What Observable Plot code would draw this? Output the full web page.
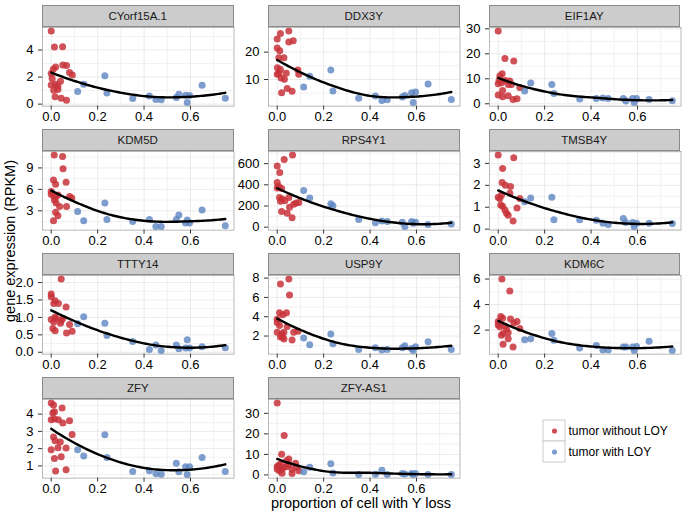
<!DOCTYPE html>
<html><head><meta charset="utf-8">
<script src="https://cdn.jsdelivr.net/npm/d3@7"></script>
<script src="https://cdn.jsdelivr.net/npm/@observablehq/plot@0.6"></script>
<style>
body{margin:0;background:#fff;font-family:"Liberation Sans",Arial,sans-serif;}
#chart{position:relative;width:685px;height:513px;overflow:hidden;background:#fff;}
.strip{position:absolute;background:#CCCCCC;border:0.5px solid #8a8a8a;box-sizing:border-box;text-align:center;font-size:11.5px;color:#1a1a1a;}
.atitle{position:absolute;font-size:14.5px;color:#000;white-space:nowrap;}
</style></head><body><div id="chart"></div>
<script>
// ---------------- data ----------------
const genes = ["CYorf15A.1","DDX3Y","EIF1AY","KDM5D","RPS4Y1","TMSB4Y","TTTY14","USP9Y","KDM6C","ZFY","ZFY-AS1"];
const groups = ["tumor without LOY","tumor with LOY"];
const xTicks = [0, 0.2, 0.4, 0.6];
const xMinorTicks = [0.1, 0.3, 0.5, 0.7];
const xLabel = "proportion of cell with Y loss";
const yLabel = "gene expression (RPKM)";

// proportion of cells with Y loss for the "tumor with LOY" samples
const blueX = [0.114,0.14,0.231,0.24,0.351,0.423,0.451,0.474,0.539,0.55,0.579,0.586,0.596,0.65,0.75];

const redX_CYorf15A1 = [0,0.014,0.049,0.019,0.009,0.05,0.066,0.079,0.091,0,0,0.019,0.04,0.029,0.011,0.029,0.017,0.043,0.066,0.004];
const redY_CYorf15A1 = [5.4,4.22,4.25,2.75,2.58,2.9,2.85,2.33,2.16,2.26,1.42,1.47,1.69,1.35,1.03,1.08,0.54,0.44,0.29,1.9];
const blueY_CYorf15A1 = [0.93,1.47,2.09,0.83,0.42,0.61,0.34,0.32,0.49,0.74,0.66,0.12,0.64,1.4,0.44];
const yTicks_CYorf15A1 = [0,2,4];

const redX_DDX3Y = [0,0.014,0.05,0.069,0.05,0,0.011,0.007,0.029,0.001,0.014,0.007,0.039,0,0.017,0.031,0.089,0.093,0.019,0.043,0.064];
const redY_DDX3Y = [24.8,26.8,27.7,24.2,23.7,21.5,20.5,18.0,18.0,14.3,13.7,12.2,12.3,11.9,10.6,10.1,13.5,11.9,5.2,6.7,5.7];
const blueY_DDX3Y = [7.3,11.2,13.5,5.8,3.2,4.0,2.3,2.6,3.6,4.2,5.2,1.6,5.4,8.4,2.7];
const yTicks_DDX3Y = [10,20];

const redX_EIF1AY = [0,0.029,0.067,0.017,0.007,0.004,0,0.014,0.05,0.057,0.093,0.019,0,0.019,0.043,0.064,0.081,0.031,0.043];
const redY_EIF1AY = [29.1,18.1,17.1,12.0,11.1,9.3,8.0,8.4,9.1,7.7,6.5,5.3,3.5,2.8,3.2,1.7,2.0,9.3,7.7];
const blueY_EIF1AY = [5.1,8.3,7.7,4.1,1.9,2.1,2.3,2.1,2.1,1.1,2.1,0.5,2.1,1.7,1.2];
const yTicks_EIF1AY = [0,10,20,30];

const redX_KDM5D = [0.013,0.049,0.051,0.01,0.019,0.064,0,0,0.01,0.019,0.079,0.089,0.014,0.021,0.036,0.066,0.019,0.029,0.01,0.029];
const redY_KDM5D = [10.8,10.6,8.9,7.3,6.7,7.0,5.7,5.3,5.1,4.9,5.0,4.8,4.5,4.1,3.6,3.6,2.8,2.3,1.6,5.2];
const blueY_KDM5D = [2.9,1.6,4.1,1.8,1.5,1.8,0.8,0.8,1.8,2.4,1.3,1.7,1.3,3.1,0.9];
const yTicks_KDM5D = [3,6,9];

const redX_RPS4Y1 = [0,0.011,0.03,0.066,0,0.007,0.019,0,0.01,0.021,0.014,0.033,0.05,0.053,0.071,0.081,0.093,0.019,0.043,0.064];
const redY_RPS4Y1 = [578,516,640,681,422,384,366,370,281,266,244,250,281,188,216,228,234,147,131,88];
const blueY_RPS4Y1 = [347,275,222,203,72,41,59,53,47,6,53,38,47,25,31];
const yTicks_RPS4Y1 = [0,200,400,600];

const redX_TMSB4Y = [0,0.067,0.019,0.017,0.031,0.053,0.05,0,0.007,0.014,0.093,0.011,0.019,0.029,0.036,0.043,0.081,0.064];
const redY_TMSB4Y = [3.38,3.26,2.77,2.13,2.0,1.95,1.64,1.45,1.4,1.55,1.4,1.1,1.04,0.87,0.72,0.64,0.96,0.37];
const blueY_TMSB4Y = [1.25,1.42,1.46,0.43,0.43,0.41,0.27,0.21,0.49,0.3,0.3,0.12,0.27,0.27,0.26];
const yTicks_TMSB4Y = [0,1,2,3];

const redX_TTTY14 = [0.043,0,0,0.017,0.011,0.031,0.064,0.017,0,0.011,0.021,0.043,0.05,0.04,0.079,0.007,0.017,0.09,0.066];
const redY_TTTY14 = [2.1,1.67,1.59,1.48,1.40,1.40,1.30,1.01,0.94,0.87,0.97,0.91,0.97,0.83,0.80,0.68,0.62,0.6,0.55];
const blueY_TTTY14 = [0.82,1.02,0.83,0.48,0.31,0.08,0.21,0.05,0.21,0.1,0.12,0.36,0.12,0.16,0.13];
const yTicks_TTTY14 = [0,0.5,1,1.5,2];

const redX_USP9Y = [0.05,0.014,0.053,0.01,0.04,0.024,0,0,0.01,0.043,0,0.029,0.071,0.09,0.019,0.014,0.024,0.029,0.064];
const redY_USP9Y = [7.9,7.4,6.25,4.4,4.4,4.2,3.75,3.4,3.1,3.0,2.4,2.4,2.4,2.5,2.2,1.9,1.9,1.7,1.6];
const blueY_USP9Y = [1.8,1.1,2.2,1.2,0.6,0.8,0.55,0.6,0.8,1.0,0.7,0.5,0.9,1.4,0.6];
const yTicks_USP9Y = [2,4,6,8];

const redX_KDM6C = [0.016,0.05,0.011,0.019,0.053,0.081,0.067,0,0,0.007,0.029,0.036,0.093,0.021,0.014,0.043,0.043,0.021,0.064];
const redY_KDM6C = [6.0,5.07,3.07,2.93,2.88,2.67,2.53,2.67,2.4,2.27,2.32,2.08,2.13,1.73,1.6,1.79,1.33,0.9,0.67];
const blueY_KDM6C = [1.25,1.33,1.73,1.2,0.6,0.8,0.45,0.45,0.67,0.67,0.67,0.4,0.72,1.12,0.4];
const yTicks_KDM6C = [2,4,6];

const redX_ZFY = [0,0.01,0.047,0.014,0.007,0,0.014,0.031,0.05,0.079,0.09,0.01,0.017,0.039,0,0.029,0.064,0.014,0.043,0.019,0.064];
const redY_ZFY = [4.64,4.53,4.35,4.14,4.06,3.67,3.71,3.67,3.48,3.62,2.82,2.67,2.46,2.38,1.93,2.05,2.03,1.43,1.53,0.7,0.77];
const blueY_ZFY = [1.93,1.57,2.8,1.49,0.68,0.72,0.54,0.52,1.16,0.66,0.95,0.5,0.95,1.49,0.68];
const yTicks_ZFY = [1,2,3,4];

const redX_ZFYAS1 = [0,0.03,0.019,0.05,0.04,0,0.007,0.014,0.019,0,0.01,0.029,0.043,0.064,0.079,0.083,0.093,0.021,0.064,0.014,0.05];
const redY_ZFYAS1 = [35,19.2,10.1,7.7,6.9,4.1,4.7,3.6,2.8,2.8,2.0,3.6,4.1,2.8,5.7,3.6,2.0,0.8,0.7,5.2,5.1];
const blueY_ZFYAS1 = [1.6,3.8,5.4,1.0,0.2,0.3,2.3,0.2,0.7,0.5,0.7,0.2,0.7,0.2,0.2];
const yTicks_ZFYAS1 = [0,10,20,30];

// table built from the arrays above
const series = {
  "CYorf15A.1": [redX_CYorf15A1, redY_CYorf15A1, blueY_CYorf15A1, yTicks_CYorf15A1, "d"],
  "DDX3Y": [redX_DDX3Y, redY_DDX3Y, blueY_DDX3Y, yTicks_DDX3Y, "d"],
  "EIF1AY": [redX_EIF1AY, redY_EIF1AY, blueY_EIF1AY, yTicks_EIF1AY, "d"],
  "KDM5D": [redX_KDM5D, redY_KDM5D, blueY_KDM5D, yTicks_KDM5D, "d"],
  "RPS4Y1": [redX_RPS4Y1, redY_RPS4Y1, blueY_RPS4Y1, yTicks_RPS4Y1, "d"],
  "TMSB4Y": [redX_TMSB4Y, redY_TMSB4Y, blueY_TMSB4Y, yTicks_TMSB4Y, "d"],
  "TTTY14": [redX_TTTY14, redY_TTTY14, blueY_TTTY14, yTicks_TTTY14, ".1f"],
  "USP9Y": [redX_USP9Y, redY_USP9Y, blueY_USP9Y, yTicks_USP9Y, "d"],
  "KDM6C": [redX_KDM6C, redY_KDM6C, blueY_KDM6C, yTicks_KDM6C, "d"],
  "ZFY": [redX_ZFY, redY_ZFY, blueY_ZFY, yTicks_ZFY, "d"],
  "ZFY-AS1": [redX_ZFYAS1, redY_ZFYAS1, blueY_ZFYAS1, yTicks_ZFYAS1, "d"]
};

// ---------------- styling / layout ----------------
const colors = {"tumor without LOY": "#C8323A", "tumor with LOY": "#5B84C0"};
const opac = {"tumor without LOY": 0.85, "tumor with LOY": 0.8};
const FONT = "'Liberation Sans', Arial, sans-serif";
const colLeft = [42, 268, 488.5];
const rowTop = [4.5, 128.5, 252.5, 376.5];
const PW = 191.5, PH = 78.6, STRIP = 22.2;
const SPAN = 1;

// loess (degree 2, tricube weights, kd-tree vertex interpolation)
function solve3(A, b) {
  const M = A.map((r, i) => [...r, b[i]]);
  for (let c = 0; c < 3; c++) {
    let p = c;
    for (let r = c + 1; r < 3; r++) if (Math.abs(M[r][c]) > Math.abs(M[p][c])) p = r;
    [M[c], M[p]] = [M[p], M[c]];
    for (let r = c + 1; r < 3; r++) {
      const f = M[r][c] / M[c][c];
      for (let k = c; k < 4; k++) M[r][k] -= f * M[c][k];
    }
  }
  const x = [0, 0, 0];
  for (let r = 2; r >= 0; r--) {
    let s = M[r][3];
    for (let k = r + 1; k < 3; k++) s -= M[r][k] * x[k];
    x[r] = s / M[r][r];
  }
  return x;
}
function localFit(xs, ys, span, x0) {
  const n = xs.length;
  const d = xs.map(x => Math.abs(x - x0));
  const q = Math.min(n, Math.floor(n * span));
  let h = (d.slice().sort((a, b) => a - b)[q - 1] || 1e-9);
  if (span > 1) h *= span;
  h *= 1.0001;
  const A = [[0,0,0],[0,0,0],[0,0,0]], b = [0,0,0];
  for (let i = 0; i < n; i++) {
    const u = d[i] / h;
    if (u >= 1) continue;
    const w = Math.pow(1 - u * u * u, 3);
    const t = xs[i] - x0, v = [1, t, t * t];
    for (let j = 0; j < 3; j++) {
      b[j] += w * v[j] * ys[i];
      for (let k = 0; k < 3; k++) A[j][k] += w * v[j] * v[k];
    }
  }
  const c = solve3(A, b);
  return {v: c[0], s: c[1]};
}
function loess(xs, ys, span, xout) {
  const n = xs.length;
  const fc = Math.floor(n * span * 0.2);
  const sorted = xs.slice().sort((a, b) => a - b);
  const lo = sorted[0], hi = sorted[n - 1];
  const mu = 0.005 * (hi - lo);
  const verts = [lo - mu, hi + mu];
  (function split(l, u, a, b) {
    if (u - l + 1 <= fc) return;
    const m = Math.floor((l + u) / 2);
    const v = (sorted[m] + sorted[m + 1]) / 2;
    if (!(v > a && v < b)) return;
    verts.push(v);
    split(l, m, a, v);
    split(m + 1, u, v, b);
  })(0, n - 1, lo - mu, hi + mu);
  verts.sort((a, b) => a - b);
  const vf = verts.map(v => localFit(xs, ys, span, v));
  return xout.map(x0 => {
    let k = 0;
    while (k < verts.length - 2 && x0 > verts[k + 1]) k++;
    const a = verts[k], b = verts[k + 1], h = b - a;
    const t = (x0 - a) / h;
    const h00 = 2*t*t*t - 3*t*t + 1, h10 = t*t*t - 2*t*t + t, h01 = -2*t*t*t + 3*t*t, h11 = t*t*t - t*t;
    const y = h00 * vf[k].v + h10 * h * vf[k].s + h01 * vf[k + 1].v + h11 * h * vf[k + 1].s;
    return {x: x0, y};
  });
}

const chart = document.getElementById("chart");

genes.forEach((g, i) => {
  const [rx, ry, by, yt, fmt] = series[g];
  const pts = rx.map((x, j) => ({x, y: ry[j], grp: groups[0]}))
    .concat(blueX.map((x, j) => ({x, y: by[j], grp: groups[1]})));
  const xs = pts.map(d => d.x), ys = pts.map(d => d.y);
  const [x0, x1] = d3.extent(xs);
  const grid = d3.range(80).map(k => x0 + k * (x1 - x0) / 79);
  const fit = loess(xs, ys, SPAN, grid);
  const [lo, hi] = d3.extent(ys.concat(fit.map(d => d.y)));
  const e = (hi - lo) * 0.05;
  const yDom = [lo - e, hi + e];
  const xe = (x1 - x0) * 0.05;
  const xDom = [x0 - xe, x1 + xe];
  const step = yt[1] - yt[0];
  const yMinor = d3.range(yt[0] - step / 2, yt[yt.length - 1] + step, step).filter(v => v > yDom[0] && v < yDom[1]);
  const yMajor = yt.filter(v => v >= yDom[0] && v <= yDom[1]);
  const col = i % 3, row = Math.floor(i / 3);
  const mL = 40, mR = 4, mT = 12, mB = 22;
  const svg = Plot.plot({
    width: PW + mL + mR, height: PH + mT + mB,
    marginLeft: mL, marginRight: mR, marginTop: mT, marginBottom: mB,
    style: {fontFamily: FONT, fontSize: "13px", background: "transparent", color: "#000"},
    x: {domain: xDom},
    y: {domain: yDom},
    marks: [
      Plot.gridX(xMinorTicks, {stroke: "#F2F2F2", strokeOpacity: 1, strokeWidth: 1}),
      Plot.gridY(yMinor, {stroke: "#F2F2F2", strokeOpacity: 1, strokeWidth: 1}),
      Plot.gridX(xTicks, {stroke: "#E2E2E2", strokeOpacity: 1, strokeWidth: 0.7}),
      Plot.gridY(yMajor, {stroke: "#E2E2E2", strokeOpacity: 1, strokeWidth: 0.7}),
      Plot.dot(pts, {x: "x", y: "y", r: 3.5, fill: d => colors[d.grp], fillOpacity: d => opac[d.grp]}),
      Plot.line(fit, {x: "x", y: "y", stroke: "#000", strokeWidth: 2.4, curve: "linear"}),
      Plot.frame({stroke: "#8a8a8a", strokeWidth: 0.6}),
      Plot.axisX(xTicks, {tickSize: 4, tickPadding: 2, tickFormat: d3.format(".1f"), label: null, fontSize: 13, stroke: "#333", fill: "#000"}),
      Plot.axisY(yMajor, {tickSize: 4, tickPadding: 5, tickFormat: d3.format(fmt), label: null, fontSize: 13, stroke: "#333", fill: "#000"})
    ]
  });
  svg.style.position = "absolute";
  svg.style.left = (colLeft[col] - mL) + "px";
  svg.style.top = (rowTop[row] + STRIP - mT) + "px";
  svg.style.maxWidth = "none";
  chart.appendChild(svg);

  const s = document.createElement("div");
  s.className = "strip";
  s.style.left = colLeft[col] + "px";
  s.style.top = rowTop[row] + "px";
  s.style.width = PW + "px";
  s.style.height = STRIP + "px";
  s.style.lineHeight = (STRIP - 1) + "px";
  s.textContent = g;
  chart.appendChild(s);
});

// axis titles
const xt = document.createElement("div");
xt.className = "atitle";
xt.textContent = xLabel;
xt.style.left = "361px"; xt.style.top = "495px"; xt.style.transform = "translateX(-50%)";
chart.appendChild(xt);
const yt = document.createElement("div");
yt.className = "atitle";
yt.textContent = yLabel;
yt.style.left = "10px"; yt.style.top = "241px";
yt.style.transform = "translate(-50%,-50%) rotate(-90deg)";
chart.appendChild(yt);

// legend
const leg = Plot.plot({
  width: 140, height: 44, margin: 0,
  style: {fontFamily: FONT, fontSize: "12px", background: "transparent", color: "#000"},
  x: {type: "band", domain: ["key"], range: [0.5, 22.5], padding: 0, axis: null},
  y: {type: "band", domain: groups, range: [0.5, 43.5], padding: 0, axis: null},
  marks: [
    Plot.cell(groups, {x: () => "key", y: d => d, fill: "#fff", stroke: "#CCCCCC", strokeWidth: 1}),
    Plot.dot(groups, {x: () => "key", y: d => d, r: 2.6, fill: d => colors[d], fillOpacity: d => opac[d]}),
    Plot.text(groups, {x: () => "key", y: d => d, text: d => d, textAnchor: "start", dx: 14, fill: "#000"})
  ]
});
leg.style.position = "absolute";
leg.style.left = "542px";
leg.style.top = "419px";
leg.style.maxWidth = "none";
chart.appendChild(leg);
</script>
</body></html>
